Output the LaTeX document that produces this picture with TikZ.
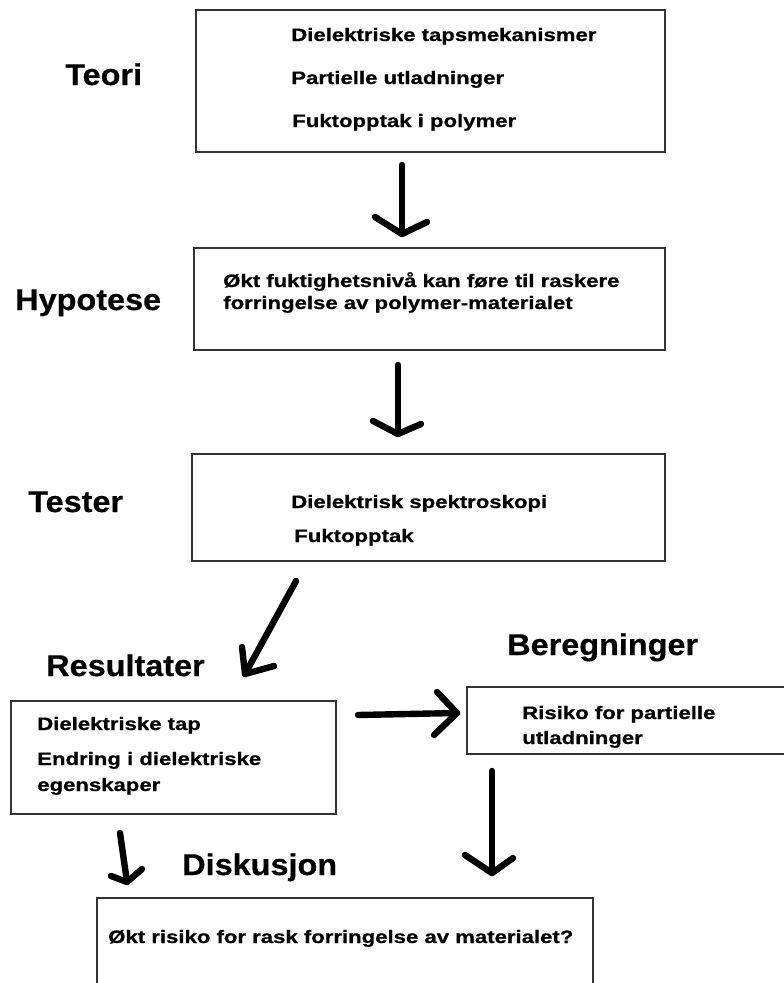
\documentclass[tikz,border=0pt]{standalone}
\usepackage{fontspec}
\usetikzlibrary{fit}
\newfontfamily\headfont{Liberation Sans}[FakeStretch=1.08, FakeBold=0.5]
\newfontfamily\bodyfont{Liberation Sans}[FakeStretch=1.23, FakeBold=0.7]
\begin{document}
\begin{tikzpicture}[x=0.75pt, y=-0.75pt,
  box/.style={draw=black!80, line width=1.1pt, inner sep=0pt, rectangle},
  headlbl/.style={anchor=base west, inner sep=0pt, font=\headfont\bfseries\fontsize{22.5}{27}\selectfont},
  bodytxt/.style={anchor=base west, inner sep=0pt, font=\bodyfont\bfseries\fontsize{13.5}{16}\selectfont},
  arrowline/.style={draw=black, line width=4.8pt, line cap=round, line join=round}]
\useasboundingbox (0,0) rectangle (784,983);
\fill[white] (0,0) rectangle (784,983);
\clip (0,0) rectangle (784,983);

% boxes
\node[box, fit={(196,10) (665,152)}] (b1) {};
\node[box, fit={(194,248) (665,350)}] (b2) {};
\node[box, fit={(192,454) (665,561)}] (b3) {};
\node[box, fit={(11,701) (336,814)}] (b4) {};
\node[box, fit={(467,687) (800,754)}] (b5) {};
\node[box, fit={(97,898) (593,1000)}] (b6) {};

% headings
\node[headlbl] (teori) at (65,85) {Teori};
\node[headlbl] (hyp) at (15,310) {Hypotese};
\node[headlbl] (tester) at (28,512) {Tester};
\node[headlbl] (result) at (46,676) {Resultater};
\node[headlbl] (bereg) at (507,655) {Beregninger};
\node[headlbl] (disk) at (182,875) {Diskusjon};

% box texts
\node[bodytxt] (t11) at (291,41) {Dielektriske tapsmekanismer};
\node[bodytxt] (t12) at (291,84) {Partielle utladninger};
\node[bodytxt] (t13) at (292,127) {Fuktopptak i polymer};
\node[bodytxt] (t21) at (223,287) {Økt fuktighetsnivå kan føre til raskere};
\node[bodytxt] (t22) at (223,309) {forringelse av polymer-materialet};
\node[bodytxt] (t31) at (291,508) {Dielektrisk spektroskopi};
\node[bodytxt] (t32) at (294,542) {Fuktopptak};
\node[bodytxt] (t41) at (37,730) {Dielektriske tap};
\node[bodytxt] (t42) at (37,765) {Endring i dielektriske};
\node[bodytxt] (t43) at (37,791) {egenskaper};
\node[bodytxt] (t51) at (522,719) {Risiko for partielle};
\node[bodytxt] (t52) at (522,744) {utladninger};
\node[bodytxt] (t61) at (108,943) {Økt risiko for rask forringelse av materialet?};

% arrow coordinates
\coordinate (a1s) at (402,165); \coordinate (a1t) at (402,234);
\coordinate (a1l) at (375,217); \coordinate (a1r) at (427,222);
\coordinate (a2s) at (398,365); \coordinate (a2t) at (398,434);
\coordinate (a2l) at (373,421); \coordinate (a2r) at (421,424);
\coordinate (a3s) at (296,581); \coordinate (a3t) at (245,674);
\coordinate (a3l) at (242,647); \coordinate (a3r) at (274,666);
\coordinate (a4s) at (358,715); \coordinate (a4t) at (457,713);
\coordinate (a4l) at (437,692); \coordinate (a4r) at (434,735);
\coordinate (a5s) at (492,771); \coordinate (a5t) at (492,873);
\coordinate (a5l) at (465,855); \coordinate (a5r) at (513,858);
\coordinate (a6s) at (120,833); \coordinate (a6t) at (127,882);
\coordinate (a6l) at (111,876); \coordinate (a6r) at (142,869);

% arrows
\foreach \a in {a1,a2,a3,a4,a5,a6}{
  \draw[arrowline] (\a s) -- (\a t);
  \draw[arrowline] (\a l) -- (\a t) -- (\a r);
}
\end{tikzpicture}
\end{document}
